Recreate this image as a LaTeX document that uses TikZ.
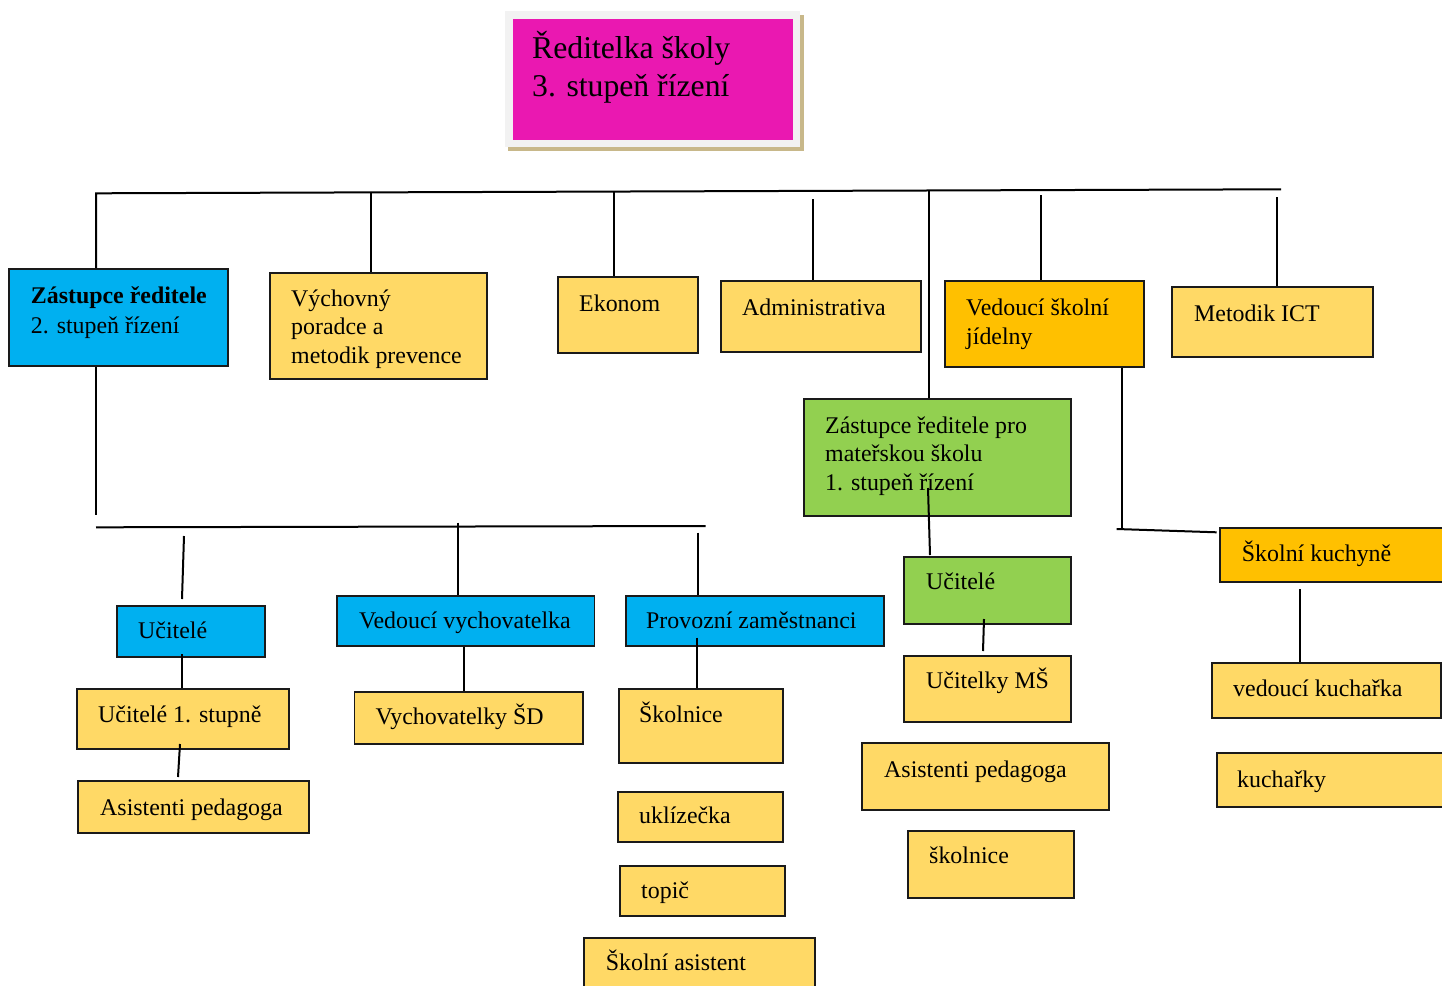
\documentclass[tikz,border=0pt]{standalone}
\usepackage{fontspec}
\setmainfont{Liberation Serif}
\usetikzlibrary{fit}
\definecolor{cblue}{HTML}{00B0F0}
\definecolor{cyel}{HTML}{FFD966}
\definecolor{corg}{HTML}{FFC000}
\definecolor{cgrn}{HTML}{92D050}
\definecolor{cmag}{HTML}{EA18B1}
\definecolor{ctan}{HTML}{C8B88A}
\definecolor{cframe}{HTML}{F2F2F2}
\definecolor{cline}{HTML}{1A1A1A}
\tikzset{
  boxst/.style={draw=cline, line width=1.8bp, inner sep=0pt},
  txtst/.style={anchor=base west, inner sep=0pt, font=\fontsize{23.9bp}{28.5bp}\selectfont},
  conn/.style={draw=black, line width=2bp},
}
\newcommand\obox[9]{%
  \node[boxst, fill=#6, fit={(#2,#3) (#4,#5)}] (#1) {};
  \node[txtst] (#1-t) at (#7,#8) {\begin{tabular}[t]{@{}l@{}}#9\end{tabular}};}
\begin{document}
\begin{tikzpicture}[x=1bp, y=-1bp]
\useasboundingbox (0,0) rectangle (1442,985);
\clip (0,0) rectangle (1442,985);
% top box
\node[fill=ctan, inner sep=0pt, fit={(508,15) (804,151)}] (dirshadow) {};
\node[fill=cframe, inner sep=0pt, fit={(505,11) (800,147)}] (dirframe) {};
\node[fill=cmag, inner sep=0pt, fit={(513,19) (793,140)}] (dir) {};
\node[anchor=base west, inner sep=0pt, font=\fontsize{31.7bp}{37.4bp}\selectfont] (dir-t) at (532,58.8)
  {\begin{tabular}[t]{@{}l@{}}Ředitelka školy\\3. stupeň řízení\end{tabular}};
% first level
\obox{zr}{9.3}{269}{227.7}{366}{cblue}{30.7}{303.8}{\textbf{Zástupce ředitele}\\[1.2bp]2. stupeň řízení}
\obox{vp}{270}{273.3}{486.7}{379.3}{cyel}{291}{306.2}{Výchovný\\poradce a\\metodik prevence}
\obox{ek}{558}{277}{698}{353}{cyel}{579}{311.2}{Ekonom}
\obox{adm}{721}{281}{921}{352}{cyel}{742}{315.5}{Administrativa}
\obox{jid}{945}{281}{1144}{367}{corg}{966}{315.5}{Vedoucí školní\\jídelny}
\obox{ict}{1172}{287}{1373}{357}{cyel}{1194}{321.5}{Metodik ICT}
\obox{msz}{804}{399.3}{1070.7}{516}{cgrn}{825}{433.2}{Zástupce ředitele pro\\mateřskou školu\\1. stupeň řízení}
% second level
\obox{uc}{117}{606}{265}{657}{cblue}{138}{638.5}{Učitelé}
\obox{vv}{336.6}{595.7}{594.5}{645.7}{cblue}{358.8}{628.8}{Vedoucí vychovatelka}
\obox{pz}{626}{596}{884}{646}{cblue}{646}{628.8}{Provozní zaměstnanci}
\obox{u1}{77}{689}{289}{749}{cyel}{98}{722.5}{Učitelé 1. stupně}
\obox{ap1}{78}{781}{309}{833}{cyel}{100}{815.5}{Asistenti pedagoga}
\obox{vsd}{354.4}{691.7}{582.7}{744}{cyel}{375.5}{724.8}{Vychovatelky ŠD}
\obox{sk}{618.6}{689}{783}{763}{cyel}{639}{722.8}{Školnice}
\obox{ukl}{617.7}{791.7}{783.3}{841.7}{cyel}{639}{823.8}{uklízečka}
\obox{top}{620}{865.7}{785}{916}{cyel}{641}{898.8}{topič}
\obox{sa}{584}{937.7}{815}{992}{cyel}{605.7}{970.5}{Školní asistent}
\obox{ucg}{904}{557.3}{1070.7}{624}{cgrn}{926}{589.8}{Učitelé}
\obox{ums}{904}{655.7}{1070.7}{721.7}{cyel}{926}{688.8}{Učitelky MŠ}
\obox{ap2}{861.7}{743.3}{1108.7}{810}{cyel}{884}{777.2}{Asistenti pedagoga}
\obox{skn}{907.7}{831}{1074.3}{897.7}{cyel}{929}{863.8}{školnice}
\obox{kuch}{1220}{527.7}{1448}{581.7}{corg}{1241.7}{561.5}{Školní kuchyně}
\obox{vk}{1211.7}{663.3}{1440.7}{717.7}{cyel}{1233}{696.5}{vedoucí kuchařka}
\obox{kc}{1216.7}{753.3}{1448}{807.3}{cyel}{1237}{787.2}{kuchařky}
% connectors: main bus
\coordinate (b0) at (96,193.3);
\coordinate (b1) at (1281,189.3);
\draw[conn] (zr.north -| b0) -- (b0) -- (b1);
\coordinate (d2) at (371,192.4);
\coordinate (d3) at (614,191.5);
\coordinate (d4) at (813,199);
\coordinate (d5) at (929,191);
\coordinate (d6) at (1041,195);
\coordinate (d7) at (1277,197);
\draw[conn] (d2) -- (d2 |- vp.north);
\draw[conn] (d3) -- (d3 |- ek.north);
\draw[conn] (d4) -- (d4 |- adm.north);
\draw[conn] (d5) -- (d5 |- msz.north);
\draw[conn] (d6) -- (d6 |- jid.north);
\draw[conn] (d7) -- (d7 |- ict.north);
% second bus
\coordinate (z0) at (96,515);
\draw[conn] (z0 |- zr.south) -- (z0);
\coordinate (c0) at (96,527.3);
\coordinate (c1) at (705.5,526);
\draw[conn] (c0) -- (c1);
\coordinate (e1a) at (184,536);
\coordinate (e1b) at (182,599);
\draw[conn] (e1a) -- (e1b);
\coordinate (e2) at (458,522.7);
\draw[conn] (e2) -- (e2 |- vv.north);
\coordinate (e3) at (698,532.7);
\draw[conn] (e3) -- (e3 |- pz.north);
\coordinate (f1) at (182,654);
\draw[conn] (f1) -- (f1 |- u1.north);
\coordinate (f2a) at (180,744);
\coordinate (f2b) at (178,777);
\draw[conn] (f2a) -- (f2b);
\coordinate (f3) at (464,645);
\draw[conn] (f3 |- vv.south) -- (f3 |- vsd.north);
\coordinate (f4) at (697,637.7);
\draw[conn] (f4) -- (f4 |- sk.north);
% kindergarten branch
\coordinate (g1a) at (928,488);
\coordinate (g1b) at (930,555);
\draw[conn] (g1a) -- (g1b);
\coordinate (g2a) at (984,619);
\coordinate (g2b) at (983,651);
\draw[conn] (g2a) -- (g2b);
% kitchen branch
\coordinate (h1) at (1121.5,530);
\draw[conn] (h1 |- jid.south) -- (h1);
\coordinate (h2a) at (1116.7,529);
\coordinate (h2b) at (1216.7,532.3);
\draw[conn] (h2a) -- (h2b);
\coordinate (k1a) at (1300,589.3);
\draw[conn] (k1a) -- (k1a |- vk.north);
\end{tikzpicture}
\end{document}
